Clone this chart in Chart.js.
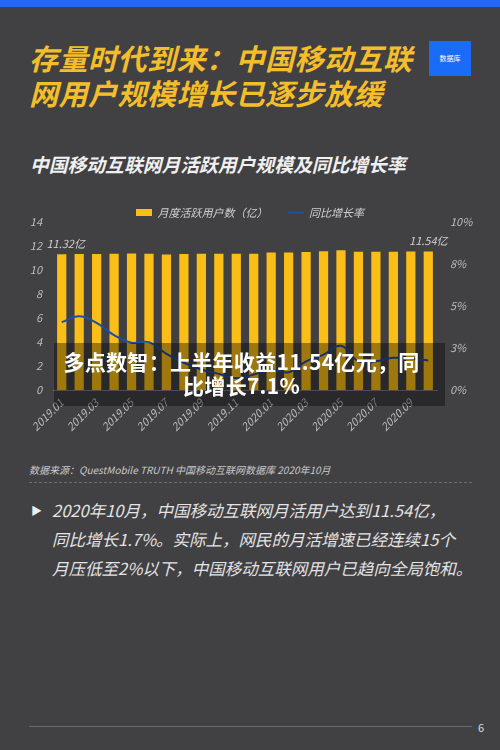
<!DOCTYPE html>
<html>
<head>
<meta charset="utf-8">
<script src="https://cdn.jsdelivr.net/npm/chart.js@4"></script>
<style>
  html, body { margin:0; padding:0; }
  body { width:500px; height:750px; background:#414043; position:relative; overflow:hidden; font-family:"Noto Sans CJK SC","Noto Sans",sans-serif; }
  .topbar { position:absolute; left:0; top:0; width:500px; height:7px; background:#2468f2; }
  .title { position:absolute; left:29px; top:40px; color:#f4bd2a; font-size:29px; font-weight:bold; font-style:italic; line-height:35px; letter-spacing:0.5px; }
  .logo { position:absolute; left:429px; top:41px; width:42px; height:35px; background:#1a6cf6; color:#fff; font-size:7px; text-align:center; line-height:35px; }
  .sub { position:absolute; left:30px; top:152px; color:#f0f0f0; font-size:18.8px; font-weight:bold; font-style:italic; line-height:24px; }
  #wrap { position:absolute; left:0; top:180px; width:500px; height:270px; }
  .overlay { position:absolute; left:54px; top:343px; width:391px; height:63px; background:rgba(0,0,0,0.37); }
  .ovtext { position:absolute; left:54px; top:349px; width:375px; text-align:center; color:#fff; font-size:21px; font-weight:bold; line-height:24px; letter-spacing:0.3px; }
  .src { position:absolute; left:29px; top:463px; color:#c9c9c9; font-size:10px; font-style:italic; line-height:14px; }
  .dash { position:absolute; left:29px; top:482px; width:443px; height:0; border-top:1px dashed #6d6d6d; }
  .bullet { position:absolute; left:31px; top:502px; color:#eee; font-size:11px; line-height:16px; }
  .para { position:absolute; left:52px; top:496px; color:#e4e4e4; font-size:16.5px; font-style:italic; line-height:29px; }
  .rule { position:absolute; left:29px; top:726px; width:443px; height:1px; background:#6b6b6b; }
  .pnum { position:absolute; left:478px; top:719px; color:#ddd; font-size:11px; line-height:16px; }
</style>
</head>
<body>
<div class="topbar"></div>
<div class="title">存量时代到来：中国移动互联<br>网用户规模增长已逐步放缓</div>
<div class="logo">数据库</div>
<div class="sub">中国移动互联网月活跃用户规模及同比增长率</div>
<div id="wrap"><canvas id="c" width="500" height="270"></canvas></div>
<div class="overlay"></div>
<div class="ovtext">多点数智：上半年收益11.54亿元，同<br>比增长7.1%</div>
<div class="src">数据来源：QuestMobile TRUTH 中国移动互联网数据库 2020年10月</div>
<div class="dash"></div>
<div class="bullet">▶</div>
<div class="para">2020年10月，中国移动互联网月活用户达到11.54亿，<br>同比增长1.7%。实际上，网民的月活增速已经连续15个<br>月压低至2%以下，中国移动互联网用户已趋向全局饱和。</div>
<div class="rule"></div>
<div class="pnum">6</div>
<script>
const months = ['2019.01','2019.02','2019.03','2019.04','2019.05','2019.06','2019.07','2019.08','2019.09','2019.10','2019.11','2019.12',
                '2020.01','2020.02','2020.03','2020.04','2020.05','2020.06','2020.07','2020.08','2020.09','2020.10'];
const mauValues = [11.32,11.33,11.34,11.36,11.37,11.36,11.30,11.33,11.35,11.36,11.35,11.35,
                   11.45,11.46,11.50,11.57,11.64,11.52,11.52,11.53,11.54,11.54];
const yoyValues = [4.04,4.39,4.00,3.26,2.81,2.85,2.15,1.62,1.22,0.96,0.70,0.92,
                   1.22,1.06,1.71,2.11,2.63,1.71,1.71,1.92,1.86,1.76];
const leftTicks = [0,2,4,6,8,10,12,14];
const rightTicks = [0,2.5,5,7.5,10];
const seriesNames = ['月度活跃用户数（亿）','同比增长率'];
const labelFont = {family:'"Noto Sans CJK SC","Noto Sans",sans-serif', size:11, style:'italic'};
const tickColor = '#bdbdbd';

const endLabels = {
  id:'endLabels',
  afterDatasetsDraw(chart){
    const ctx = chart.ctx;
    const meta = chart.getDatasetMeta(1);
    ctx.save();
    ctx.font = 'italic 11px "Noto Sans CJK SC","Noto Sans",sans-serif';
    ctx.fillStyle = '#d0d0d0';
    ctx.textAlign = 'center';
    ctx.textBaseline = 'bottom';
    [0, mauValues.length-1].forEach(i=>{
      const el = meta.data[i];
      ctx.fillText(mauValues[i].toFixed(2)+'亿', el.x + (i===0?4:0), el.y - 5);
    });
    ctx.restore();
  }
};

new Chart(document.getElementById('c'), {
  data: {
    labels: months,
    datasets: [
      { type:'line', label:seriesNames[1], data:yoyValues, yAxisID:'y2', borderColor:'#1d4ea8', backgroundColor:'#1d4ea8',
        borderWidth:2, pointRadius:0, tension:0.4, pointStyle:'line', order:0 },
      { type:'bar', label:seriesNames[0], data:mauValues, yAxisID:'y', backgroundColor:'#fbbd18', borderWidth:0,
        barPercentage:0.53, categoryPercentage:1, pointStyle:'rect', order:1 }
    ]
  },
  options: {
    responsive:false,
    animation:false,
    layout:{ padding:{ top:7, left:0, right:0, bottom:0 } },
    plugins:{
      legend:{
        position:'top',
        maxHeight:35,
        reverse:true,
        labels:{ color:'#cfcfcf', font:{...labelFont, size:11}, usePointStyle:true, pointStyleWidth:16, boxHeight:7, padding:20 }
      },
      tooltip:{ enabled:false }
    },
    scales:{
      x:{
        grid:{ display:false, drawTicks:false },
        border:{ display:true, color:'#7a7a7a', width:1 },
        ticks:{ color:tickColor, font:labelFont, autoSkip:false, maxRotation:45, minRotation:45, padding:6,
                callback:function(v,i){ return i%2===0 ? months[i] : ''; } },
        afterFit(s){ s.height = 60; }
      },
      y:{
        position:'left', min:0, max:14,
        grid:{ display:false, drawTicks:false }, border:{ display:false },
        afterBuildTicks(s){ s.ticks = leftTicks.map(v=>({value:v})); },
        ticks:{ color:tickColor, font:labelFont, padding:11 },
        afterFit(s){ s.width = 53; }
      },
      y2:{
        position:'right', min:0, max:10,
        grid:{ display:false, drawTicks:false }, border:{ display:false },
        afterBuildTicks(s){ s.ticks = rightTicks.map(v=>({value:v})); },
        ticks:{ color:tickColor, font:labelFont, padding:13, callback:v=>Math.round(v)+'%' },
        afterFit(s){ s.width = 63; }
      }
    }
  },
  plugins:[endLabels]
});
</script>
</body>
</html>
